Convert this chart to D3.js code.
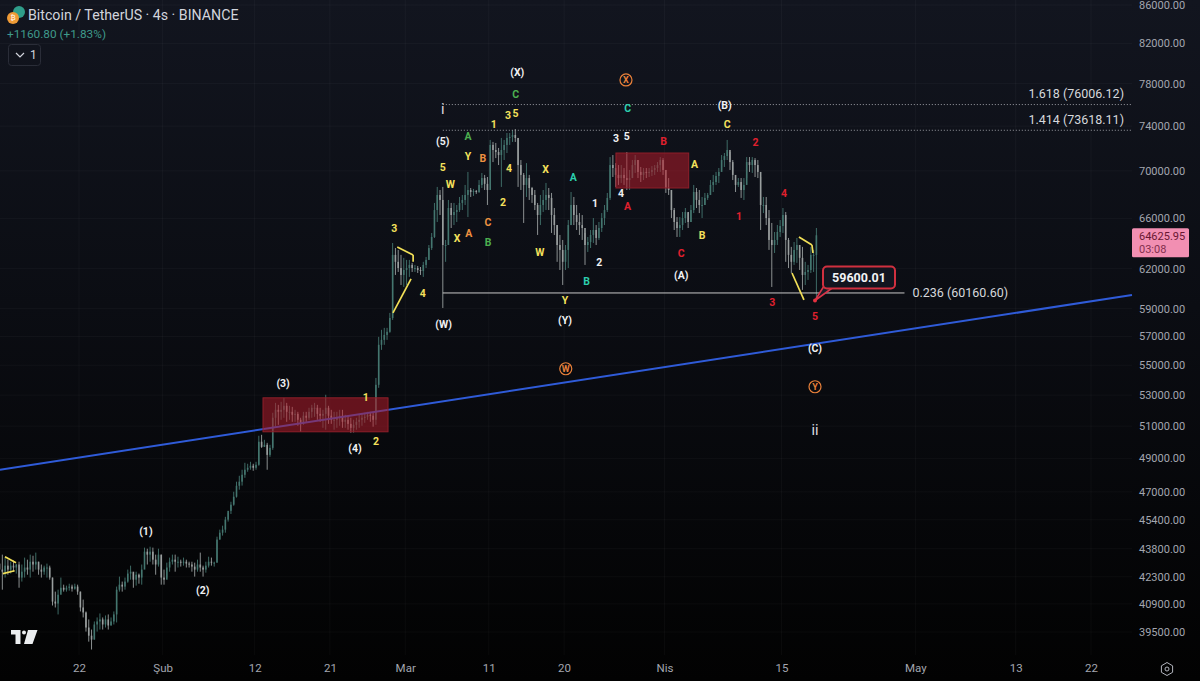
<!DOCTYPE html>
<html>
<head>
<meta charset="utf-8">
<script src="https://cdn.jsdelivr.net/npm/d3@7"></script>
<style>
  html, body { margin: 0; padding: 0; background: #000; overflow: hidden; }
  svg { display: block; font-family: Roboto, sans-serif; }
</style>
</head>
<body>
<div id="chart-area"></div>
<script>
// axis ticks
const priceTicks = [86000, 82000, 78000, 74000, 70000, 66000, 62000, 59000, 57000, 55000, 53000, 51000, 49000, 47000, 45400, 43800, 42300, 40900, 39500];
const dateTicks = ["2024-01-22", "2024-02-01", "2024-02-12", "2024-02-21", "2024-03-01", "2024-03-11", "2024-03-20", "2024-04-01", "2024-04-15", "2024-05-01", "2024-05-13", "2024-05-22"];
const dateLabels = ["22", "Şub", "12", "21", "Mar", "11", "20", "Nis", "15", "May", "13", "22"];

// candles, one every 8 hours
const firstCandle = Date.UTC(2024, 0, 12, 12);
const highs = [
  44740,43480,43320,43210,43100,43160,42990,43100,42950,43320,
  43210,43480,43420,43590,43100,42950,42890,43000,42890,42260,
  41530,41630,42260,41890,41840,41940,41890,41940,41890,41530,
  41120,40520,40120,39620,40020,40220,40420,40220,40320,40370,
  40220,40520,41790,42310,42050,42260,42680,42890,42520,42570,
  42470,42950,43860,43800,43910,43860,43480,43800,43480,42680,
  43050,43320,43480,43480,43370,43210,43320,43210,43100,43100,
  43050,43210,43590,42890,43100,43370,43320,43100,44460,44850,
  45070,45570,45800,46430,47010,47600,47950,48310,48730,48670,
  48790,48670,48790,50390,50450,50140,49950,49830,51850,52490,
  52360,52560,52820,52490,52300,52230,52040,51910,51530,51910,
  51910,52170,52360,52490,52360,52170,52040,53020,52300,52040,
  51910,51910,52040,52040,51720,51660,51530,51400,51530,51720,
  51780,51850,51910,51910,51850,54140,56970,57470,57610,57610,
  58690,64010,63610,63460,63070,62840,62680,62680,62450,62290,
  62210,62130,62530,62910,63850,64810,67270,68620,68360,68620,
  64250,67520,67270,67270,67100,67770,67940,68790,69910,68530,
  68450,68360,69210,69820,69650,69470,72740,72560,72470,72020,
  72920,72740,73370,73370,73640,73730,72920,70950,69820,70680,
  69650,68620,68360,67270,67940,68360,68960,68530,68110,66850,
  65450,64650,64250,63850,65860,68190,67770,67100,66430,66270,
  64810,64490,65050,66020,65450,65700,66430,67100,68110,71210,
  71390,70680,70510,70510,70250,71660,70080,70950,71390,70950,
  70340,70250,70250,70250,70420,70510,70770,71210,71120,70080,
  69380,68360,66850,66100,66100,66520,66850,66430,67100,68790,
  68530,68360,67770,68110,68110,69210,69650,69910,70250,71390,
  71570,72740,71660,70950,69470,69380,69380,69380,71210,71210,
  71210,71120,70950,69470,67770,67770,66680,65620,64890,65450,
  65860,66850,66520,64410,63700,64090,64410,63850,63700,62530,
  62290,63700,63460,65210
];
const lows = [
  41530,41630,42260,42410,42470,42570,42470,41730,42050,42260,
  42410,42260,42570,42680,42410,42260,42410,42260,42150,40820,
  40720,40370,41530,41530,41530,41580,41530,41630,41370,40520,
  40220,39520,39030,38650,39130,39520,39620,39620,39720,39620,
  39820,39870,39970,41530,41530,41630,41990,42150,41730,41840,
  41940,41890,42790,42950,43100,42950,42410,42840,41890,41890,
  42260,42570,42950,42570,42790,42840,42890,42790,42790,42570,
  42310,42570,42570,42310,42520,42790,42890,42840,43050,44300,
  44520,44680,45300,45730,46200,46670,47130,47370,47830,48190,
  48310,48250,48310,48550,49640,49700,48310,49090,49520,50960,
  51080,51400,51530,51270,51400,51270,51270,51020,50640,51080,
  51270,51400,51530,51590,51400,51270,50890,50770,51140,51140,
  50770,50890,51020,50890,50890,50770,50580,50580,50770,50890,
  51020,51210,51400,51270,50960,51080,53480,56060,56410,56760,
  57260,58180,61520,61750,60760,60610,60760,61370,61750,61750,
  61670,61520,61370,62050,62680,63460,64410,65700,66270,59050,
  62530,63850,65210,65450,65700,66520,66680,67100,66100,67770,
  67860,68030,68110,68530,68360,67100,69210,70770,71120,70510,
  68620,70950,71570,72290,72560,72560,68620,68360,65620,67770,
  67520,67270,66680,64650,65450,66520,66680,66680,64810,64650,
  62530,61900,60760,61900,62050,65450,65450,65050,64650,64250,
  62290,63300,63610,64010,63850,64250,64890,65450,66520,67520,
  69470,68620,68790,68960,68790,68360,68360,69380,69820,69380,
  69040,69210,69380,69470,69560,69650,69910,69910,69650,68110,
  67940,66020,65050,64490,64490,65050,65620,65210,65700,66430,
  66850,66430,66020,67100,67520,67940,68190,68790,68960,70080,
  70340,70950,70080,69210,68190,68620,67690,67520,69380,69910,
  69820,69470,69380,65050,66430,65450,63460,60610,63220,63850,
  64490,64810,62530,62050,61670,62290,62450,61900,60390,60760,
  61140,61670,61750,59600.01
];
const closes = [
  42680,42570,42890,42680,42890,42790,42950,42260,42570,42790,
  42680,43100,42950,43100,42680,42570,42790,42790,42260,41020,
  40920,41370,41730,41630,41730,41790,41680,41790,41530,40720,
  40470,39720,39320,39130,39870,40020,40120,39870,40120,39820,
  40020,40370,41630,41890,41790,42050,42470,42570,42150,42410,
  42260,42680,43640,43480,43640,43210,42950,43480,42260,42150,
  42790,43100,43210,43100,43100,43050,43100,43000,42950,42840,
  42680,42950,42790,42680,42890,43100,43050,43050,44300,44680,
  44850,45410,45910,46260,46720,47360,47600,48010,48310,48430,
  48550,48430,48610,50020,49700,49830,49210,49640,51530,52040,
  51910,52040,52300,51910,51910,51720,51780,51400,51140,51660,
  51530,51910,52170,52170,51780,51660,51780,52170,51660,51400,
  51400,51530,51660,51270,51400,51140,50890,51080,51270,51400,
  51530,51590,51720,51660,51400,53680,56410,56760,57110,57330,
  58320,63070,62530,62050,61520,61900,62050,62290,62050,62050,
  61900,61820,62290,62680,63610,64490,66680,67940,67520,63850,
  63850,66850,66270,66520,66680,67270,67520,67940,68360,68190,
  68280,68190,68790,69380,68880,68360,72290,71840,71660,71390,
  71840,72290,72920,73010,73190,72920,70510,69650,68790,69380,
  68530,67940,67100,66270,67100,67520,67940,67690,66270,65450,
  63850,63460,62530,63460,65450,67100,66270,65700,65450,65210,
  63850,64090,64650,65050,64410,65210,66020,66680,67690,70510,
  70250,69650,69380,69650,69380,69210,69380,70510,70950,69910,
  69650,69910,69820,69910,70080,70250,70510,70950,70080,68530,
  68360,66680,65700,65210,65450,66020,66520,65700,66680,68190,
  67520,67100,67100,67690,67940,68790,69040,69560,69910,70950,
  71300,71840,70770,69650,68790,69040,68360,68790,70770,70510,
  70950,70510,69910,67100,67100,66020,64250,63850,64250,64890,
  65370,66270,64250,63070,62530,63460,63850,62840,61520,61750,
  61900,63070,63070,64625.95
];

// wave labels: [text, days since 1 Jan 2024, price]
const whiteWaves = [
  ["(1)",29,44740],["(2)",35.8,41580],["(3)",45.4,53810],["(4)",54,49640],["(5)",64.5,72650],
  ["(W)",64.6,57890],["(X)",73.4,79140],["(Y)",79.1,58180],["(A)",93,61520],["(B)",98.2,75960],["(C)",109,56200],
  ["3",85.2,72920],["5",86.5,73100],["4",85.8,68110],["1",82.7,67270],["2",83.2,62530]
];
const yellowWaves = [
  ["1",55.3,52820],["2",56.5,50020],["3",58.7,65210],["4",62.1,60160],["5",64.5,70340],["W",65.4,68880],
  ["X",66.2,64410],["Y",67.5,71300],["1",70.6,74200],["3",72.3,75030],["5",73.2,75220],["4",72.4,70250],
  ["2",71.7,67350],["X",76.8,70170],["W",76.1,63300],["Y",79.1,59640],["A",94.6,70600],["B",95.5,64650],["C",98.5,74200]
];
const orangeWaves = [["B",69.3,71120],["C",69.9,65700],["A",67.6,64810]];
const greenWaves = [["A",67.5,73100],["C",73.2,77010],["B",69.9,64090]];
const tealWaves = [["C",86.6,75680],["A",80.1,69470],["B",81.7,61060]];
const redWaves = [
  ["B",90.9,72650],["A",86.6,67010],["C",93,63230],["1",99.9,66190],["2",101.9,72560],["3",103.9,59490],["4",105.3,68110],["5",109,58470]
];
const circledWaves = [["W",79.2,54760],["X",86.4,78360],["Y",109,53550]];
const romanWaves = [["i",64.5,75590],["ii",109,50770]];

// drawings: days since 1 Jan 2024 and prices
const trendLine = [[11.55,48310],[146.9,60010]];
const fibLevels = [
  {label:"1.618 (76006.12)", price:76006.12, from:64.5, to:146.9},
  {label:"1.414 (73618.11)", price:73618.11, from:64.5, to:146.9},
  {label:"0.236 (60160.60)", price:60160.60, from:64.5, to:119.7}
];
const redBoxes = [[43,57.95,52820,50640],[85.2,93.9,71570,68530]];
const yellowLines = [
  [[12.15,43370],[13.47,43050]],[[11.9,42470],[13.3,42620]],
  [[59.05,63700],[60.95,63070]],[[60.95,63070],[60.95,62530]],[[58.54,58690],[60.7,61220]],
  [[107.08,64490],[108.64,63850]],[[108.64,63850],[108.76,63220]],[[106.25,61670],[107.68,59640]]
];
const lastPrice = 64625.95;
const lowPrice = 59600.01;
const lowDay = 109;

const W = 1200, H = 681, plotRight = 1132, plotBottom = 655;

const x = d3.scaleUtc()
  .domain([new Date("2024-01-22"), new Date("2024-05-22")])
  .range([79, 1091]);
const y = d3.scaleLog()
  .domain([39500, 86000])
  .range([632, 5]);
const dayX = d => x(new Date(Date.UTC(2024, 0, 1) + d * 864e5));
const tickDates = dateTicks.map(d => new Date(d));

const svg = d3.select("#chart-area")
  .append("svg")
    .attr("width", W)
    .attr("height", H);

const grad = svg.append("defs").append("linearGradient")
  .attr("id", "bg").attr("x1", 0).attr("x2", 0).attr("y1", 0).attr("y2", 1);
grad.append("stop").attr("offset", "0%").attr("stop-color", "#12151f");
grad.append("stop").attr("offset", "45%").attr("stop-color", "#0b0d13");
grad.append("stop").attr("offset", "100%").attr("stop-color", "#020202");
svg.append("rect").attr("width", W).attr("height", H).attr("fill", "url(#bg)");

// grid
svg.append("g").selectAll("line").data(priceTicks).enter().append("line")
  .attr("x1", 0).attr("x2", plotRight)
  .attr("y1", d => y(d)).attr("y2", d => y(d))
  .attr("stroke", "#fff").attr("stroke-opacity", 0.035);
svg.append("g").selectAll("line").data(tickDates).enter().append("line")
  .attr("x1", d => x(d)).attr("x2", d => x(d))
  .attr("y1", 0).attr("y2", plotBottom)
  .attr("stroke", "#fff").attr("stroke-opacity", 0.035);

// axes
const yAxis = svg.append("g")
  .attr("transform", `translate(${plotRight},0)`)
  .call(d3.axisRight(y).tickValues(priceTicks).tickFormat(d3.format(".2f")).tickSize(0).tickPadding(7));
const xAxis = svg.append("g")
  .attr("transform", `translate(0,${plotBottom})`)
  .call(d3.axisBottom(x).tickValues(tickDates).tickFormat((d, i) => dateLabels[i]).tickSize(0).tickPadding(9));
[yAxis, xAxis].forEach(a => {
  a.select(".domain").remove();
  a.selectAll("text").attr("fill", "#a3a6af").style("font-size", "11px").style("font-family", "Roboto, sans-serif");
});
xAxis.selectAll("text").style("font-size", "11.5px");

// candles
const candles = closes.map((c, i) => ({
  date: new Date(firstCandle + i * 8 * 36e5),
  open: i ? closes[i - 1] : 43000,
  high: highs[i],
  low: lows[i],
  close: c
}));
const candleColor = d => d.close >= d.open ? "#44766f" : "#9a9f9f";
const gc = svg.append("g");
gc.selectAll("line").data(candles).enter().append("line")
  .attr("x1", d => x(d.date)).attr("x2", d => x(d.date))
  .attr("y1", d => y(d.high)).attr("y2", d => y(d.low))
  .attr("stroke", candleColor).attr("stroke-width", 0.9);
gc.selectAll("rect").data(candles).enter().append("rect")
  .attr("x", d => x(d.date) - 0.8)
  .attr("width", 1.6)
  .attr("y", d => y(Math.max(d.open, d.close)))
  .attr("height", d => Math.max(1, Math.abs(y(d.open) - y(d.close))))
  .attr("fill", candleColor);

// trend line
svg.append("line")
  .attr("x1", dayX(trendLine[0][0])).attr("y1", y(trendLine[0][1]))
  .attr("x2", dayX(trendLine[1][0])).attr("y2", y(trendLine[1][1]))
  .attr("stroke", "#2f5bd8").attr("stroke-width", 2);

// red boxes
svg.append("g").selectAll("rect").data(redBoxes).enter().append("rect")
  .attr("x", d => dayX(d[0])).attr("width", d => dayX(d[1]) - dayX(d[0]))
  .attr("y", d => y(d[2])).attr("height", d => y(d[3]) - y(d[2]))
  .attr("fill", "#b01c2a").attr("fill-opacity", 0.55)
  .attr("stroke", "#8f1f2a").attr("stroke-width", 1);

// fib levels
fibLevels.forEach((f, i) => {
  svg.append("line")
    .attr("x1", dayX(f.from)).attr("x2", dayX(f.to))
    .attr("y1", y(f.price)).attr("y2", y(f.price))
    .attr("stroke", i < 2 ? "#9a9ca3" : "#c9c9c9")
    .attr("stroke-width", 1)
    .attr("stroke-dasharray", i < 2 ? "1,2" : null);
  svg.append("text")
    .attr("x", i < 2 ? plotRight - 8 : dayX(f.to) + 8)
    .attr("y", i < 2 ? y(f.price) - 11 : y(f.price))
    .attr("dy", "0.35em")
    .attr("text-anchor", i < 2 ? "end" : "start")
    .attr("fill", "#d6d8dc")
    .style("font-size", "12.5px")
    .text(f.label);
});

// yellow wedges
svg.append("g").selectAll("line").data(yellowLines).enter().append("line")
  .attr("x1", d => dayX(d[0][0])).attr("y1", d => y(d[0][1]))
  .attr("x2", d => dayX(d[1][0])).attr("y2", d => y(d[1][1]))
  .attr("stroke", "#f2e058").attr("stroke-width", 1.7);

// wave labels
function waveLabels(data, color, size, weight) {
  svg.append("g").selectAll("text").data(data).enter().append("text")
    .attr("x", d => dayX(d[1])).attr("y", d => y(d[2]))
    .attr("dy", "0.35em")
    .attr("text-anchor", "middle")
    .attr("fill", color)
    .style("font-size", size + "px")
    .style("font-weight", weight || 700)
    .text(d => d[0]);
}
waveLabels(whiteWaves, "#f0f1f3", 10.5);
waveLabels(yellowWaves, "#f4e05c", 10.5);
waveLabels(orangeWaves, "#ee9140", 10.5);
waveLabels(greenWaves, "#4caf50", 10.5);
waveLabels(tealWaves, "#2ccfae", 10.5);
waveLabels(redWaves, "#e0202e", 10.5);
waveLabels(romanWaves, "#dcdde0", 14.5, 400);

svg.append("g").selectAll("circle").data(circledWaves).enter().append("circle")
  .attr("cx", d => dayX(d[1])).attr("cy", d => y(d[2])).attr("r", 6)
  .attr("fill", "none").attr("stroke", "#e8803a").attr("stroke-width", 1.2);
waveLabels(circledWaves, "#e8803a", 9);

// low price callout
const lowX = dayX(lowDay), lowY = y(lowPrice);
svg.append("path")
  .attr("d", `M${lowX},${lowY}L${lowX + 8},${lowY - 13}L${lowX + 18},${lowY - 13}Z`)
  .attr("fill", "#1a1d27").attr("stroke", "#d93448").attr("stroke-width", 1.6);
svg.append("rect")
  .attr("x", lowX + 8).attr("y", lowY - 34)
  .attr("width", 72).attr("height", 22).attr("rx", 4)
  .attr("fill", "#12151f").attr("stroke", "#d0303f").attr("stroke-width", 2);
svg.append("text")
  .attr("x", lowX + 44).attr("y", lowY - 23).attr("dy", "0.35em")
  .attr("text-anchor", "middle").attr("fill", "#f2f3f5")
  .style("font-size", "12.5px").style("font-weight", 700)
  .text(d3.format(".2f")(lowPrice));
svg.append("circle").attr("cx", lowX).attr("cy", lowY).attr("r", 2).attr("fill", "#e5303f");

// last price tag
svg.append("rect")
  .attr("x", plotRight).attr("y", y(lastPrice) - 7)
  .attr("width", 57).attr("height", 29).attr("rx", 1.5)
  .attr("fill", "#f28fb2");
svg.append("text")
  .attr("x", plotRight + 7).attr("y", y(lastPrice)).attr("dy", "0.45em")
  .attr("fill", "#6a1733").style("font-size", "11px")
  .text(d3.format(".2f")(lastPrice));
svg.append("text")
  .attr("x", plotRight + 7).attr("y", y(lastPrice) + 13).attr("dy", "0.4em")
  .attr("fill", "#84304e").style("font-size", "11px")
  .text("03:08");

// legend
svg.append("circle").attr("cx", 19).attr("cy", 12).attr("r", 6).attr("fill", "#2f9d8a");
svg.append("circle").attr("cx", 13).attr("cy", 18).attr("r", 6).attr("fill", "#ee9a36");
svg.append("text").attr("x", 13).attr("y", 18).attr("dy", "0.35em").attr("text-anchor", "middle")
  .attr("fill", "#fff").style("font-size", "7px").text("₿");
svg.append("text").attr("x", 28).attr("y", 15).attr("dy", "0.35em")
  .attr("fill", "#d1d4dc").style("font-size", "14.2px")
  .text("Bitcoin / TetherUS · 4s · BINANCE");
svg.append("text").attr("x", 7).attr("y", 34).attr("dy", "0.35em")
  .attr("fill", "#3f9a8b").style("font-size", "11.8px")
  .text("+1160.80 (+1.83%)");
svg.append("rect").attr("x", 8.5).attr("y", 44.5).attr("width", 32).attr("height", 21).attr("rx", 3)
  .attr("fill", "none").attr("stroke", "#2a2d38");
svg.append("path").attr("d", "M16,53l4,4l4,-4").attr("fill", "none").attr("stroke", "#d1d4dc").attr("stroke-width", 1.2);
svg.append("text").attr("x", 30).attr("y", 55).attr("dy", "0.35em")
  .attr("fill", "#d1d4dc").style("font-size", "12px").text("1");

// logo and settings icon
svg.append("path")
  .attr("d", "M11,630h9.5v14h-5v-9.5h-4.5Z M28,630h9.5l-5,14h-8.5Z")
  .attr("fill", "#eceef0");
svg.append("circle").attr("cx", 24).attr("cy", 632.5).attr("r", 2).attr("fill", "#eceef0");
svg.append("path")
  .attr("d", d3.range(6).map(i => {
    const a = Math.PI / 3 * i;
    return (i ? "L" : "M") + (1167 + 6.5 * Math.sin(a)).toFixed(1) + "," + (669 - 6.5 * Math.cos(a)).toFixed(1);
  }).join("") + "Z")
  .attr("fill", "none").attr("stroke", "#b2b5be").attr("stroke-width", 1);
svg.append("circle").attr("cx", 1167).attr("cy", 669).attr("r", 2).attr("fill", "none").attr("stroke", "#b2b5be");
</script>
</body>
</html>
